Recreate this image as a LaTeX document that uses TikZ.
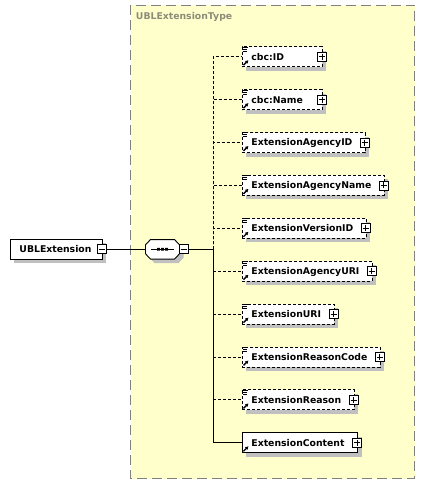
\documentclass[tikz,border=0pt]{standalone}
\usepackage{fontspec}
\setmainfont{DejaVu Sans}
\usetikzlibrary{shadows,arrows.meta}
\definecolor{typefill}{RGB}{255,255,204}
\definecolor{typeline}{RGB}{128,128,128}
\definecolor{typetext}{RGB}{140,140,120}
\definecolor{shadowgray}{RGB}{192,192,192}

\begin{document}
\begin{tikzpicture}[x=1pt,y=-1pt,line width=0.9pt,
	font=\fontsize{9.3}{11}\selectfont\bfseries,
	boxshadow/.style={drop shadow={shadow xshift=4pt,shadow yshift=-4pt,opacity=1,fill=shadowgray}},
	box/.style={draw,fill=white,boxshadow,anchor=west,minimum height=20pt,inner xsep=0pt,inner ysep=0pt,
		text height=6.8pt,text depth=0pt},
	elem/.style={box,execute at begin node={\hspace*{9pt}},execute at end node={\hspace*{13pt}}},
	optelem/.style={elem,dash pattern=on 3pt off 2pt},
	pm/.style={draw,solid,fill=white,minimum size=9pt,inner sep=0pt,line width=0.8pt},
	plusbox/.style={pm,path picture={\draw[black,shift={(path picture bounding box.center)}] (-3,0) -- (3,0) (0,-3) -- (0,3);}},
	minusbox/.style={pm,path picture={\draw[black,shift={(path picture bounding box.center)}] (-3,0) -- (3,0);}},
	seqbox/.style={minimum width=34pt,minimum height=19.5pt,inner sep=0pt},
	listicon/.style={line width=0.8pt},
	refarrow/.style={line width=1.4pt,-{Latex[length=3.2pt,width=3.8pt]}},
	optline/.style={dash pattern=on 3pt off 2pt}]
	\useasboundingbox (0,0) rectangle (425,485);
	% complex type frame
	\draw[typeline,fill=typefill,dash pattern=on 10pt off 5pt] (130.5,5) rectangle (414.5,478.5);
	\node[anchor=west,inner sep=0pt,text=typetext] (tname) at (135.5,16.5) {UBLExtensionType};
	% root element and sequence
	\node[box,execute at begin node={\hspace*{9pt}},execute at end node={\hspace*{11pt}}] (ubl) at (10,249.3) {UBLExtension};
	\node[minusbox] (ublm) at ([xshift=-1pt]ubl.east) {};
	\node[seqbox] (seq) at (162.5,249.3) {};
	\begin{scope}[shift={(seq.center)}]
		\draw[fill=white,boxshadow] (-17,-4.5) -- (-12,-9.75) -- (12,-9.75) -- (17,-4.5) -- (17,4.5) -- (12,9.75) -- (-12,9.75) -- (-17,4.5) -- cycle;
		\draw[line width=1.3pt] (-11.5,0) -- (11.5,0);
		\fill (-5.4,-1.4) rectangle (-2.6,1.4) (-1.4,-1.4) rectangle (1.4,1.4) (2.6,-1.4) rectangle (5.4,1.4);
	\end{scope}
	\node[minusbox] (seqm) at (183.5,249.3) {};
	\coordinate (spine) at (213.3,249.3);
	% child elements
	\node[optelem] (id) at (242,56.7) {\makebox[58pt][l]{cbc:ID}};
	\node[optelem] (name) at (242,99.6) {\makebox[58pt][l]{cbc:Name}};
	\node[optelem] (agid) at (242,142.5) {ExtensionAgencyID};
	\node[optelem] (agname) at (242,185.4) {ExtensionAgencyName};
	\node[optelem] (verid) at (242,228.3) {ExtensionVersionID};
	\node[optelem] (aguri) at (242,271.2) {ExtensionAgencyURI};
	\node[optelem] (uri) at (242,314.1) {ExtensionURI};
	\node[optelem] (rcode) at (242,357) {ExtensionReasonCode};
	\node[optelem] (reason) at (242,399.9) {ExtensionReason};
	\node[elem] (content) at (242,442.8) {ExtensionContent};
	% icons
	\foreach \e in {id,name,agid,agname,verid,aguri,uri,rcode,reason}
		\draw[listicon,shift={(\e.north west)}] (-0.5,0.8) -- (5.5,0.8) (0.5,2.8) -- (5,2.8) (0.5,4.8) -- (5,4.8);
	\foreach \e in {id,name,agid,agname,verid,aguri,uri,rcode,reason,content}
		\draw[refarrow,shift={(\e.south west)}] (1.5,-2) -- (6.5,-7);
	% expand buttons
	\node[plusbox] (idp) at ([xshift=-1pt]id.east) {};
	\node[plusbox] (namep) at ([xshift=-1pt]name.east) {};
	\node[plusbox] (agidp) at ([xshift=-1pt]agid.east) {};
	\node[plusbox] (agnamep) at ([xshift=-1pt]agname.east) {};
	\node[plusbox] (veridp) at ([xshift=-1pt]verid.east) {};
	\node[plusbox] (agurip) at ([xshift=-1pt]aguri.east) {};
	\node[plusbox] (urip) at ([xshift=-1pt]uri.east) {};
	\node[plusbox] (rcodep) at ([xshift=-1pt]rcode.east) {};
	\node[plusbox] (reasonp) at ([xshift=-1pt]reason.east) {};
	\node[plusbox] (contentp) at ([xshift=-1pt]content.east) {};
	% connectors
	\draw (ublm.east) -- (seq.west);
	\draw (seqm.east) -- (spine);
	\draw[optline] (spine) |- (id.west);
	\draw[optline] (spine) |- (name.west);
	\draw[optline] (spine) |- (agid.west);
	\draw[optline] (spine) |- (agname.west);
	\draw[optline] (spine) |- (verid.west);
	\draw (spine) |- (content.west);
	\draw[optline] (spine |- aguri.west) -- (aguri.west);
	\draw[optline] (spine |- uri.west) -- (uri.west);
	\draw[optline] (spine |- rcode.west) -- (rcode.west);
	\draw[optline] (spine |- reason.west) -- (reason.west);
\end{tikzpicture}
\end{document}
